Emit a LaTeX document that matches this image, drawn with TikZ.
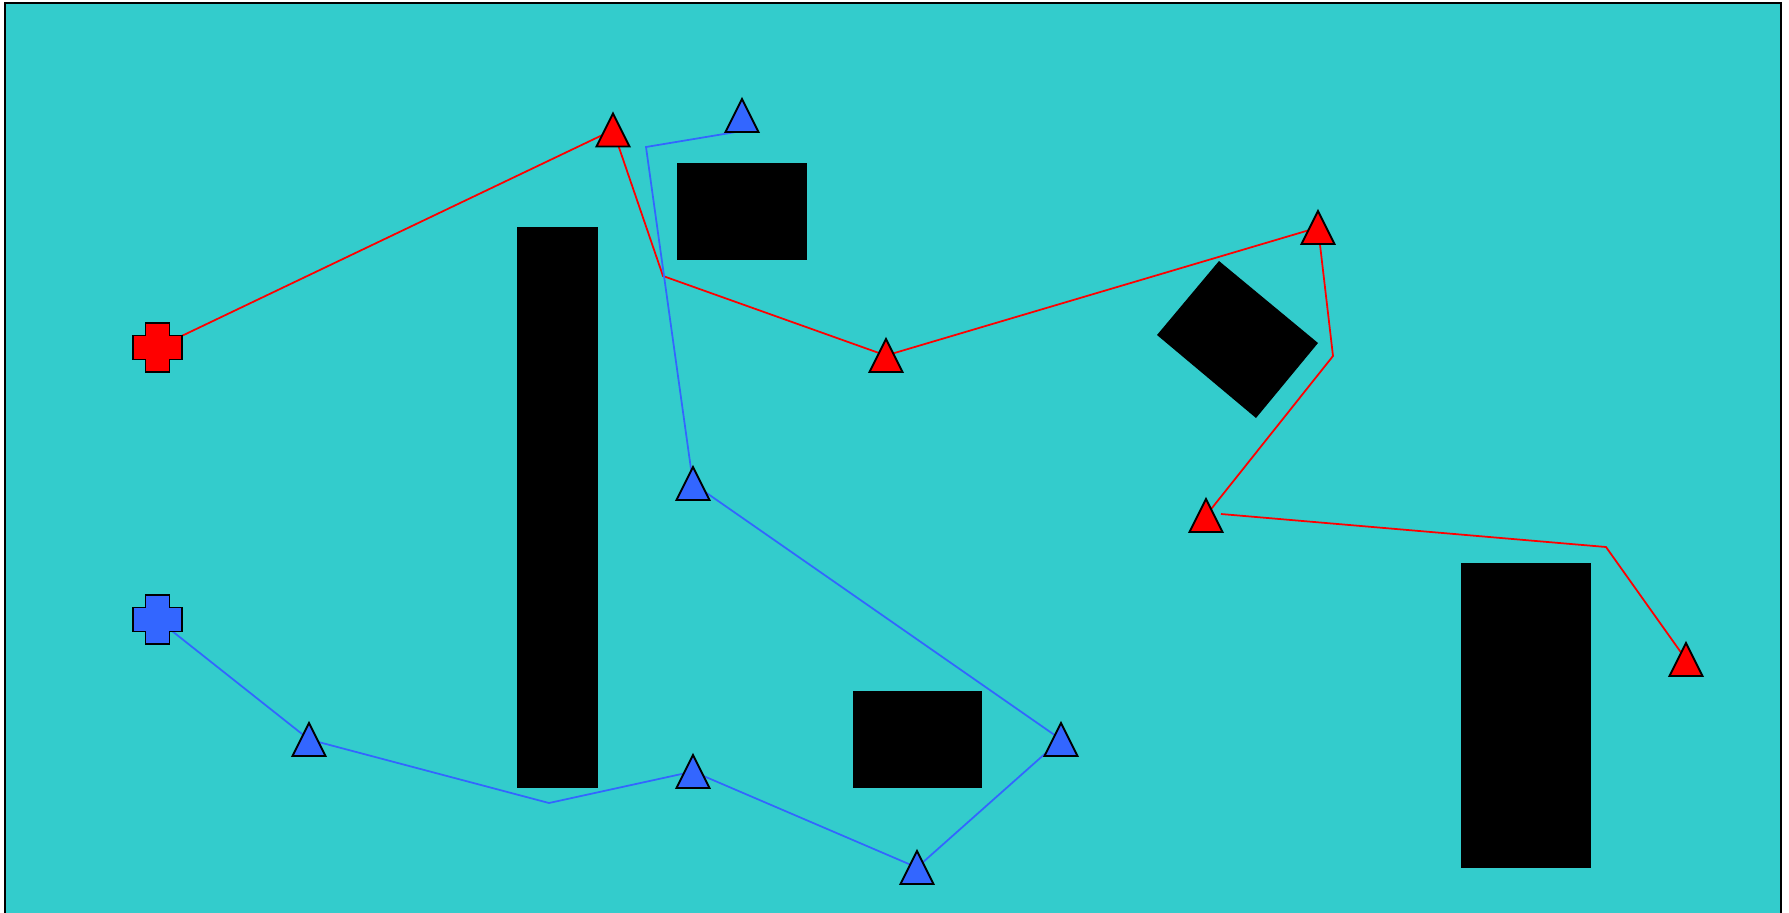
\documentclass[tikz,border=0pt]{standalone}
\definecolor{floor}{RGB}{51,204,204}
\definecolor{bluebot}{RGB}{51,102,255}
\begin{document}
\begin{tikzpicture}[
            x=0.02cm, y=-0.02cm,
            wall/.style={fill=black},
            redpath/.style={red, line width=1pt},
            bluepath/.style={bluebot, line width=1pt},
            robot/.pic={\draw[fill=#1, line width=1.1pt, line join=miter] (0,-16.5) -- (16.5,16.5) -- (-16.5,16.5) -- cycle;},
            depot/.pic={\draw[fill=#1, line width=1.1pt] (-12,-24.5) -- (12,-24.5) -- (12,-12) -- (24.5,-12) -- (24.5,12) -- (12,12) -- (12,24.5) -- (-12,24.5) -- (-12,12) -- (-24.5,12) -- (-24.5,-12) -- (-12,-12) -- cycle;}
            ]
            \useasboundingbox (0,0) rectangle (1789,913);
            \clip (0,0) rectangle (1789,913);
            \draw[fill=floor, line width=1.1pt] (5,3) rectangle (1781,940);

            % obstacles
            \fill[wall] (517,227) rectangle (598,788);
            \fill[wall] (677,163) rectangle (807,260);
            \fill[wall] (853,691) rectangle (982,788);
            \fill[wall] (1461,563) rectangle (1591,868);
            \fill[wall] (1219,261) -- (1318,343) -- (1256,418) -- (1157,335) -- cycle;

            % red robot
            \coordinate (r) at (157.5,347.5);
            \coordinate (ra) at (613,130);
            \coordinate (rb) at (886,355.5);
            \coordinate (rc) at (1318,227.5);
            \coordinate (rd) at (1206,515.5);
            \coordinate (re) at (1686,659.5);
            \coordinate (r1) at (663,276);
            \coordinate (r2) at (1333,356);
            \coordinate (r3) at (1221,514);
            \coordinate (r4) at (1606,547);

            % blue robot
            \coordinate (b) at (157.5,619.5);
            \coordinate (ba) at (742,115.5);
            \coordinate (bb) at (309,739.5);
            \coordinate (bc) at (693,771.5);
            \coordinate (bd) at (693,483.5);
            \coordinate (be) at (1061,739.5);
            \coordinate (bf) at (917,867.5);
            \coordinate (b1) at (549,803);
            \coordinate (b2) at (646,147);
            \coordinate (b3) at (742,131);

            \draw[redpath] (r)--(ra)--(r1)--(rb)--(rc)--(r2)--(rd);
            \draw[redpath] (r3)--(r4)--(re);
            \draw[bluepath] (b)--(bb)--(b1)--(bc)--(bf)--(be)--(bd)--(b2)--(b3);

            \pic at (r) {depot=red};
            \pic at (b) {depot=bluebot};
            \foreach \p in {ra,rb,rc,rd,re}
                \pic at (\p) {robot=red};
            \foreach \p in {ba,bb,bc,bd,be,bf}
                \pic at (\p) {robot=bluebot};
            \end{tikzpicture}
\end{document}
